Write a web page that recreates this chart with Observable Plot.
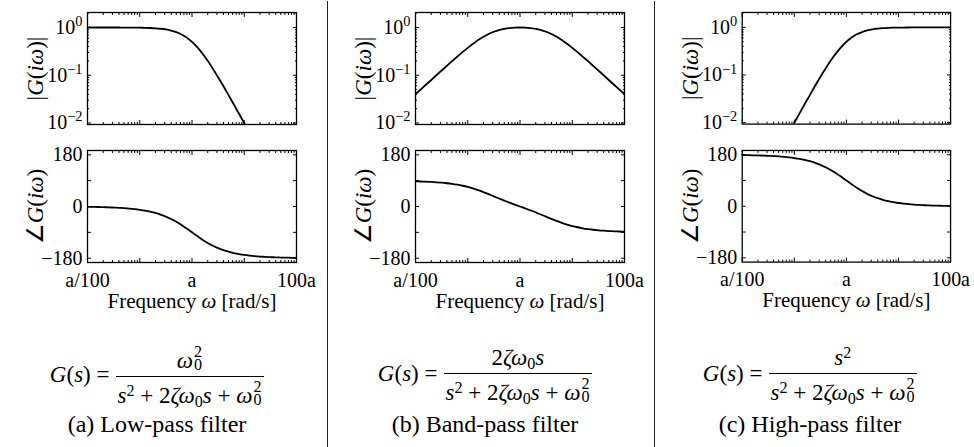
<!DOCTYPE html>
<html>
<head>
<meta charset="utf-8">
<script src="https://cdn.jsdelivr.net/npm/d3@7"></script>
<script src="https://cdn.jsdelivr.net/npm/@observablehq/plot@0.6"></script>
<style>
  body { margin: 0; background: #fff; }
  #root { position: relative; width: 974px; height: 447px; background: #fff; overflow: hidden;
          font-family: 'Liberation Serif', 'Times New Roman', serif; color: #000; }
  .panel { position: absolute; }
  .sep { position: absolute; top: 1px; width: 1.2px; height: 446px; background: #222; }
  .formula { position: absolute; width: 340px; text-align: center; font-size: 23px; line-height: 1.1; white-space: nowrap; }
  .frac { display: inline-block; vertical-align: middle; text-align: center; margin-left: 6px; }
  .num { display: block; border-bottom: 1.2px solid #000; padding: 0 2px 3px 2px; }
  .den { display: block; padding: 3px 2px 0 2px; }
  .formula sup { font-size: 0.7em; vertical-align: 0.45em; line-height: 0; }
  .formula sub { font-size: 0.7em; vertical-align: -0.25em; line-height: 0; }
  .ss { display: inline-block; position: relative; width: 0.42em; height: 1em; }
  .ss .up { position: absolute; left: 1px; top: 1px; font-size: 0.7em; line-height: 0.8; }
  .ss .dn { position: absolute; left: 1px; top: 14px; font-size: 0.7em; line-height: 0.8; }
  .caption { position: absolute; width: 340px; text-align: center; font-size: 24px; line-height: 1; white-space: nowrap; }
</style>
</head>
<body>
<div id="root"></div>
<script>
// ---------------- data ----------------
const freq = [0.01,0.0126,0.0158,0.02,0.0251,0.0316,0.0398,0.0501,0.0631,0.0794,
              0.1,0.126,0.158,0.2,0.251,0.316,0.398,0.501,0.631,0.794,
              1,1.26,1.58,2,2.51,3.16,3.98,5.01,6.31,7.94,
              10,12.6,15.8,20,25.1,31.6,39.8,50.1,63.1,79.4,100];

const lowMag = [0.9999,0.9998,0.9997,0.9996,0.9994,0.999,0.9984,0.9975,0.996,0.9937,
                0.9901,0.9844,0.9755,0.9617,0.9406,0.9091,0.8632,0.7992,0.7153,0.6131,
                0.5,0.3868,0.2847,0.2008,0.1368,0.0909,0.0594,0.0383,0.0245,0.0156,
                0.0099,0.0063,0.004,0.0025,0.0016,0.001,0.00063,0.0004,0.00025,0.00016,0.0001];
const lowPhase = [-1.15,-1.44,-1.82,-2.29,-2.88,-3.62,-4.56,-5.74,-7.22,-9.08,
                  -11.42,-14.35,-18.01,-22.57,-28.2,-35.1,-43.41,-53.23,-64.5,-76.93,
                  -90,-103.07,-115.5,-126.77,-136.59,-144.9,-151.8,-157.43,-161.99,-165.65,
                  -168.58,-170.92,-172.78,-174.26,-175.44,-176.38,-177.12,-177.71,-178.18,-178.56,-178.85];

const bandMag = [0.04,0.0503,0.0633,0.0796,0.1,0.1256,0.1575,0.197,0.2456,0.3046,
                 0.3746,0.4555,0.5452,0.6392,0.7314,0.8148,0.8841,0.9368,0.9727,0.9933,
                 1,0.9933,0.9727,0.9368,0.8841,0.8148,0.7314,0.6392,0.5452,0.4555,
                 0.3746,0.3046,0.2456,0.197,0.1575,0.1256,0.1,0.0796,0.0633,0.0503,0.04];
const bandPhase = [87.71,87.12,86.37,85.44,84.26,82.78,80.94,78.64,75.78,72.27,
                   68,62.9,56.96,50.27,43,35.43,27.85,20.48,13.41,6.63,
                   0,-6.63,-13.41,-20.48,-27.85,-35.43,-43,-50.27,-56.96,-62.9,
                   -68,-72.27,-75.78,-78.64,-80.94,-82.78,-84.26,-85.44,-86.37,-87.12,-87.71];

const highMag = [0.0001,0.00016,0.00025,0.0004,0.00063,0.001,0.0016,0.0025,0.004,0.0063,
                 0.0099,0.0156,0.0245,0.0383,0.0594,0.0909,0.1368,0.2008,0.2847,0.3868,
                 0.5,0.6131,0.7153,0.7992,0.8632,0.9091,0.9406,0.9617,0.9755,0.9844,
                 0.9901,0.9937,0.996,0.9975,0.9984,0.999,0.9994,0.9996,0.9997,0.9998,0.9999];
const highPhase = [178.85,178.56,178.18,177.71,177.12,176.38,175.44,174.26,172.78,170.92,
                   168.58,165.65,161.99,157.43,151.8,144.9,136.59,126.77,115.5,103.07,
                   90,76.93,64.5,53.23,43.41,35.1,28.2,22.57,18.01,14.35,
                   11.42,9.08,7.22,5.74,4.56,3.62,2.88,2.29,1.82,1.44,1.15];

// ticks and labels
const xMajorTicks = [0.01,0.1,1,10,100];
const xMinorTicks = [0.02,0.03,0.04,0.05,0.06,0.07,0.08,0.09,0.2,0.3,0.4,0.5,0.6,0.7,0.8,0.9,
                     2,3,4,5,6,7,8,9,20,30,40,50,60,70,80,90];
const xLabelTicks = [0.01,1,100];
const xTickLabels = ["a/100","a","100a"];
const magMajorTicks = [0.01,0.1,1];
const magMinorTicks = [0.02,0.03,0.04,0.05,0.06,0.07,0.08,0.09,0.2,0.3,0.4,0.5,0.6,0.7,0.8,0.9,2];
const magTickLabels = ["10^\u22122","10^\u22121","10^0"];
const phaseTicks = [-180,-90,0,90,180];
const phaseLabelTicks = [-180,0,180];
const phaseTickLabels = ["\u2212180","0","180"];

const magLabel = "|{G}({i\u03c9})|";
const phaseLabel = "\u2220{G}({i\u03c9})";
const xLabel = "Frequency {\u03c9} [rad/s]";
const captions = ["(a) Low-pass filter","(b) Band-pass filter","(c) High-pass filter"];

const columns = [
  {mag: lowMag, phase: lowPhase},
  {mag: bandMag, phase: bandPhase},
  {mag: highMag, phase: highPhase}
];

// ---------------- layout ----------------
const colLeft = [0, 328, 655];
const textCenter = [157, 485, 810];
const W = 320, ML = 87, MR = 24;
const font = "'Liberation Serif', 'Times New Roman', serif";
const TICK_FS = 20, LABEL_FS = 21, YLABEL_FS = 23;

function tickMarks(yMajor, yMinor) {
  return [
    Plot.axisX({anchor: "bottom", ticks: xMajorTicks, tickSize: -4, fill: "none", label: null}),
    Plot.axisX({anchor: "bottom", ticks: xMinorTicks, tickSize: -2, fill: "none", label: null}),
    Plot.axisX({anchor: "top", ticks: xMajorTicks, tickSize: -4, fill: "none", label: null}),
    Plot.axisX({anchor: "top", ticks: xMinorTicks, tickSize: -2, fill: "none", label: null}),
    Plot.axisY({anchor: "left", ticks: yMajor, tickSize: -4, fill: "none", label: null}),
    Plot.axisY({anchor: "right", ticks: yMajor, tickSize: -4, fill: "none", label: null}),
    ...(yMinor ? [
      Plot.axisY({anchor: "left", ticks: yMinor, tickSize: -2, fill: "none", label: null}),
      Plot.axisY({anchor: "right", ticks: yMinor, tickSize: -2, fill: "none", label: null})
    ] : [])
  ];
}

function magPlot(values) {
  const data = freq.map((f, i) => ({f, v: values[i]}));
  return Plot.plot({
    width: W, height: 128,
    marginLeft: ML, marginRight: MR, marginTop: 12, marginBottom: 4,
    style: {fontFamily: font, fontSize: TICK_FS + "px", color: "#000", background: "transparent", overflow: "visible"},
    x: {type: "log", domain: [0.01, 100]},
    y: {type: "log", domain: [0.0093, 2.06]},
    marks: [
      Plot.line(data, {x: "f", y: "v", stroke: "#000", strokeWidth: 1.8, curve: "catmull-rom", clip: true}),
      ...tickMarks(magMajorTicks, magMinorTicks),
      Plot.axisY({anchor: "left", ticks: magMajorTicks, tickSize: 0, tickPadding: 5, fontSize: TICK_FS, fontFamily: font,
                  tickFormat: d => magTickLabels[magMajorTicks.indexOf(d)], stroke: "none", label: null}),
      Plot.frame({stroke: "#000", strokeWidth: 1.3}),
      Plot.text([magLabel], {text: d => d, frameAnchor: "left", dx: -52, rotate: -90, textAnchor: "middle",
                             fontSize: YLABEL_FS, fontFamily: font})
    ]
  });
}

function phasePlot(values) {
  const data = freq.map((f, i) => ({f, v: values[i]}));
  return Plot.plot({
    width: W, height: 176,
    marginLeft: ML, marginRight: MR, marginTop: 12, marginBottom: 52,
    style: {fontFamily: font, fontSize: TICK_FS + "px", color: "#000", background: "transparent", overflow: "visible"},
    x: {type: "log", domain: [0.01, 100]},
    y: {domain: [-195, 195]},
    marks: [
      Plot.line(data, {x: "f", y: "v", stroke: "#000", strokeWidth: 1.8, curve: "catmull-rom", clip: true}),
      ...tickMarks(phaseTicks, null),
      Plot.axisY({anchor: "left", ticks: phaseLabelTicks, tickSize: 0, tickPadding: 5, fontSize: TICK_FS, fontFamily: font,
                  tickFormat: d => phaseTickLabels[phaseLabelTicks.indexOf(d)], stroke: "none", label: null}),
      Plot.axisX({anchor: "bottom", ticks: xLabelTicks, tickSize: 0, tickPadding: 10, fontSize: TICK_FS, fontFamily: font,
                  tickFormat: d => xTickLabels[xLabelTicks.indexOf(d)], stroke: "none", label: null}),
      Plot.frame({stroke: "#000", strokeWidth: 1.3}),
      Plot.text([phaseLabel], {text: d => d, frameAnchor: "left", dx: -52, rotate: -90, textAnchor: "middle",
                               fontSize: YLABEL_FS, fontFamily: font}),
      Plot.text([xLabel], {text: d => d, frameAnchor: "bottom", dy: 45, fontSize: LABEL_FS, fontFamily: font})
    ]
  });
}

// convert {italic} and ^superscript markup into tspans
function rich(svg) {
  svg.querySelectorAll("text").forEach(t => {
    const s = t.textContent;
    if (!/[\{\^]/.test(s)) return;
    let html = s.replace(/\{([^}]*)\}/g, '<tspan font-style="italic">$1</tspan>');
    html = html.replace(/\^(.*)$/, '<tspan dy="-0.55em" font-size="0.72em">$1</tspan>');
    t.innerHTML = html;
  });
  return svg;
}

const root = document.getElementById("root");
const omega0ss = '<i>\u03c9</i><span class="ss"><span class="up">2</span><span class="dn">0</span></span>';
const denom = '<i>s</i><sup>2</sup> + 2<i>\u03b6\u03c9</i><sub>0</sub><i>s</i> + ' + omega0ss;
const numerators = [
  omega0ss,
  '2<i>\u03b6\u03c9</i><sub>0</sub><i>s</i>',
  '<i>s</i><sup>2</sup>'
];

columns.forEach((c, k) => {
  const m = document.createElement("div");
  m.className = "panel"; m.style.left = colLeft[k] + "px"; m.style.top = "0px";
  m.appendChild(rich(magPlot(c.mag)));
  root.appendChild(m);

  const p = document.createElement("div");
  p.className = "panel"; p.style.left = colLeft[k] + "px"; p.style.top = "138px";
  p.appendChild(rich(phasePlot(c.phase)));
  root.appendChild(p);

  const f = document.createElement("div");
  f.className = "formula";
  f.style.left = (textCenter[k] - 170) + "px"; f.style.top = "345px";
  f.innerHTML = '<i>G</i>(<i>s</i>) =<span class="frac"><span class="num">' + numerators[k] +
                '</span><span class="den">' + denom + '</span></span>';
  root.appendChild(f);

  const cap = document.createElement("div");
  cap.className = "caption";
  cap.style.left = (textCenter[k] - 170) + "px"; cap.style.top = "412px";
  cap.textContent = captions[k];
  root.appendChild(cap);
});

[327, 654].forEach(x => {
  const s = document.createElement("div");
  s.className = "sep"; s.style.left = x + "px";
  root.appendChild(s);
});
</script>
</body>
</html>
